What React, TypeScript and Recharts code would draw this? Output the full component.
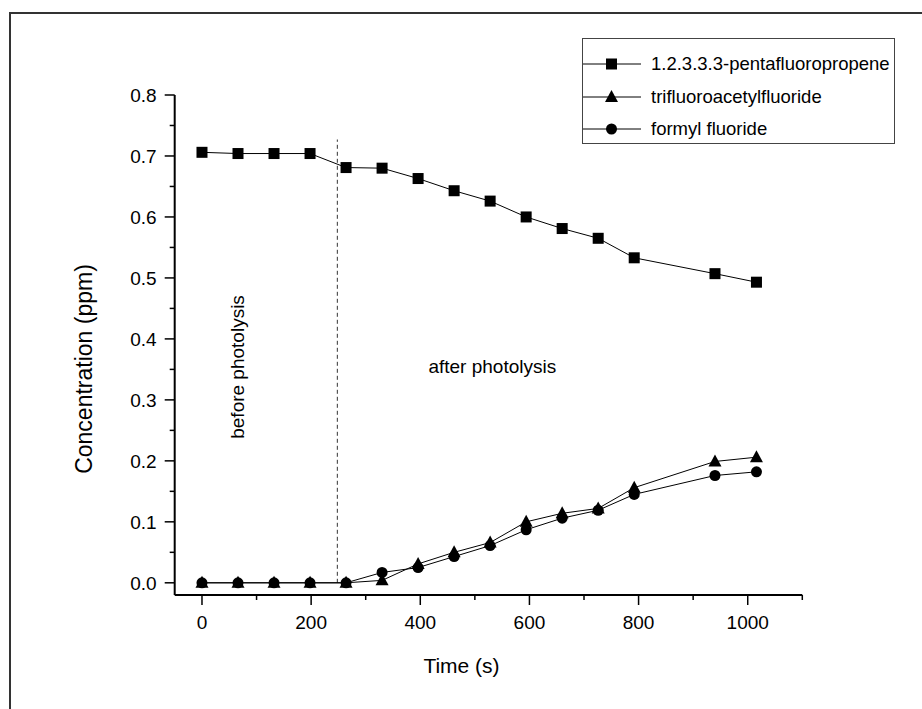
import { LineChart, Line, XAxis, YAxis, ReferenceLine, ReferenceDot } from "recharts";

const time = [0, 66, 132, 198, 264, 330, 396, 462, 528, 594, 660, 726, 792, 940, 1016];
const pentafluoropropene = [0.706, 0.704, 0.704, 0.704, 0.681, 0.68, 0.663, 0.643, 0.626, 0.6, 0.581, 0.565, 0.533, 0.507, 0.493];
const trifluoroacetylfluoride = [0, 0, 0, 0, 0, 0.004, 0.031, 0.05, 0.066, 0.1, 0.114, 0.122, 0.156, 0.199, 0.206];
const formylFluoride = [0, 0, 0, 0, 0, 0.017, 0.025, 0.043, 0.061, 0.087, 0.106, 0.119, 0.145, 0.176, 0.182];

const xTicks = [0, 100, 200, 300, 400, 500, 600, 700, 800, 900, 1000, 1100];
const yTicks = [0, 0.05, 0.1, 0.15, 0.2, 0.25, 0.3, 0.35, 0.4, 0.45, 0.5, 0.55, 0.6, 0.65, 0.7, 0.75, 0.8];

const seriesNames = ["1.2.3.3.3-pentafluoropropene", "trifluoroacetylfluoride", "formyl fluoride"];

const FONT = '"Liberation Sans", Arial, sans-serif';

const data = time.map((t, i) => ({
  time: t,
  penta: pentafluoropropene[i],
  tfa: trifluoroacetylfluoride[i],
  ff: formylFluoride[i],
}));

// marker shapes
const squareDot = (props: any) => {
  const { cx, cy, index } = props;
  return <rect key={`sq-${index}`} x={cx - 5.5} y={cy - 5.5} width={11} height={11} fill="#000" />;
};
const triangleDot = (props: any) => {
  const { cx, cy, index } = props;
  return (
    <polygon
      key={`tr-${index}`}
      points={`${cx},${cy - 7} ${cx + 6.5},${cy + 5} ${cx - 6.5},${cy + 5}`}
      fill="#000"
    />
  );
};
const circleDot = (props: any) => {
  const { cx, cy, index } = props;
  return <circle key={`ci-${index}`} cx={cx} cy={cy} r={5.5} fill="#000" />;
};

const XTick = (props: any) => {
  const { x, y, payload } = props;
  const v = payload.value;
  const major = v % 200 === 0;
  return (
    <g>
      <line x1={x} x2={x} y1={y} y2={y + (major ? 10 : 5)} stroke="#000" strokeWidth={1.5} />
      {major && v <= 1000 && (
        <text x={x} y={y + 34} textAnchor="middle" fontSize={19} fontFamily={FONT} fill="#000">
          {v}
        </text>
      )}
    </g>
  );
};

const YTick = (props: any) => {
  const { x, y, payload } = props;
  const v = payload.value;
  const major = Math.round(v * 100) % 10 === 0;
  return (
    <g>
      <line x1={x - (major ? 10 : 5)} x2={x} y1={y} y2={y} stroke="#000" strokeWidth={1.5} />
      {major && (
        <text x={x - 18} y={y + 7} textAnchor="end" fontSize={19} fontFamily={FONT} fill="#000">
          {v.toFixed(1)}
        </text>
      )}
    </g>
  );
};

const legendMarkers = [
  <rect x={23} y={2.5} width={11} height={11} fill="#000" />,
  <polygon points="28.5,1 35,13 22,13" fill="#000" />,
  <circle cx={28.5} cy={8} r={5.5} fill="#000" />,
];

function LegendBox() {
  return (
    <div
      style={{
        position: "absolute",
        left: 582,
        top: 38,
        width: 311,
        height: 104,
        border: "1px solid #444",
        fontFamily: FONT,
        fontSize: 18.5,
        color: "#000",
      }}
    >
      {seriesNames.map((name, i) => (
        <div
          key={name}
          style={{ position: "absolute", left: 0, top: 17 + i * 32.7, height: 16, display: "flex", alignItems: "center", whiteSpace: "nowrap" }}
        >
          <svg width={58} height={16} style={{ display: "block" }}>
            <line x1={0} x2={58} y1={8} y2={8} stroke="#000" strokeWidth={1} />
            {legendMarkers[i]}
          </svg>
          <span style={{ marginLeft: 10 }}>{name}</span>
        </div>
      ))}
    </div>
  );
}

export default function App() {
  return (
    <div style={{ position: "absolute", left: 0, top: 0, width: 922, height: 709, background: "#fff" }}>
      <div style={{ position: "absolute", left: 10, top: 12, width: 912, height: 2, background: "#333" }} />
      <div style={{ position: "absolute", left: 9, top: 12, width: 2, height: 697, background: "#333" }} />
      <LineChart width={922} height={709} data={data} margin={{ top: 95, right: 119.7, bottom: 34, left: 74.7 }}>
        <XAxis
          dataKey="time"
          type="number"
          domain={[-50, 1100]}
          ticks={xTicks}
          interval={0}
          height={80}
          tickSize={0}
          tickMargin={0}
          tickLine={false}
          tick={<XTick />}
          axisLine={{ stroke: "#000", strokeWidth: 2 }}
          label={() => (
            <text x={461.5} y={673} textAnchor="middle" fontSize={21} fontFamily={FONT} fill="#000">
              Time (s)
            </text>
          )}
        />
        <YAxis
          type="number"
          domain={[-0.02, 0.8]}
          ticks={yTicks}
          interval={0}
          width={100}
          tickSize={0}
          tickMargin={0}
          tickLine={false}
          tick={<YTick />}
          axisLine={{ stroke: "#000", strokeWidth: 2 }}
          label={() => (
            <text
              x={92}
              y={369}
              transform="rotate(-90, 92, 369)"
              textAnchor="middle"
              fontSize={23}
              fontFamily={FONT}
              fill="#000"
            >
              Concentration (ppm)
            </text>
          )}
        />
        <ReferenceLine
          segment={[
            { x: 248, y: 0 },
            { x: 248, y: 0.727 },
          ]}
          stroke="#333"
          strokeWidth={1}
          strokeDasharray="4 3"
        />
        <ReferenceDot
          x={65}
          y={0.354}
          r={0}
          fill="none"
          stroke="none"
          label={{ value: "before photolysis", position: "center", angle: -90, fontSize: 19, fontFamily: FONT, fill: "#000" }}
        />
        <ReferenceDot
          x={532}
          y={0.355}
          r={0}
          fill="none"
          stroke="none"
          label={{ value: "after photolysis", position: "center", fontSize: 19, fontFamily: FONT, fill: "#000" }}
        />
        <Line
          type="linear"
          dataKey="penta"
          name={seriesNames[0]}
          stroke="#000"
          strokeWidth={1}
          dot={squareDot}
          isAnimationActive={false}
        />
        <Line
          type="linear"
          dataKey="tfa"
          name={seriesNames[1]}
          stroke="#000"
          strokeWidth={1}
          dot={triangleDot}
          isAnimationActive={false}
        />
        <Line
          type="linear"
          dataKey="ff"
          name={seriesNames[2]}
          stroke="#000"
          strokeWidth={1}
          dot={circleDot}
          isAnimationActive={false}
        />
      </LineChart>
      <LegendBox />
    </div>
  );
}
